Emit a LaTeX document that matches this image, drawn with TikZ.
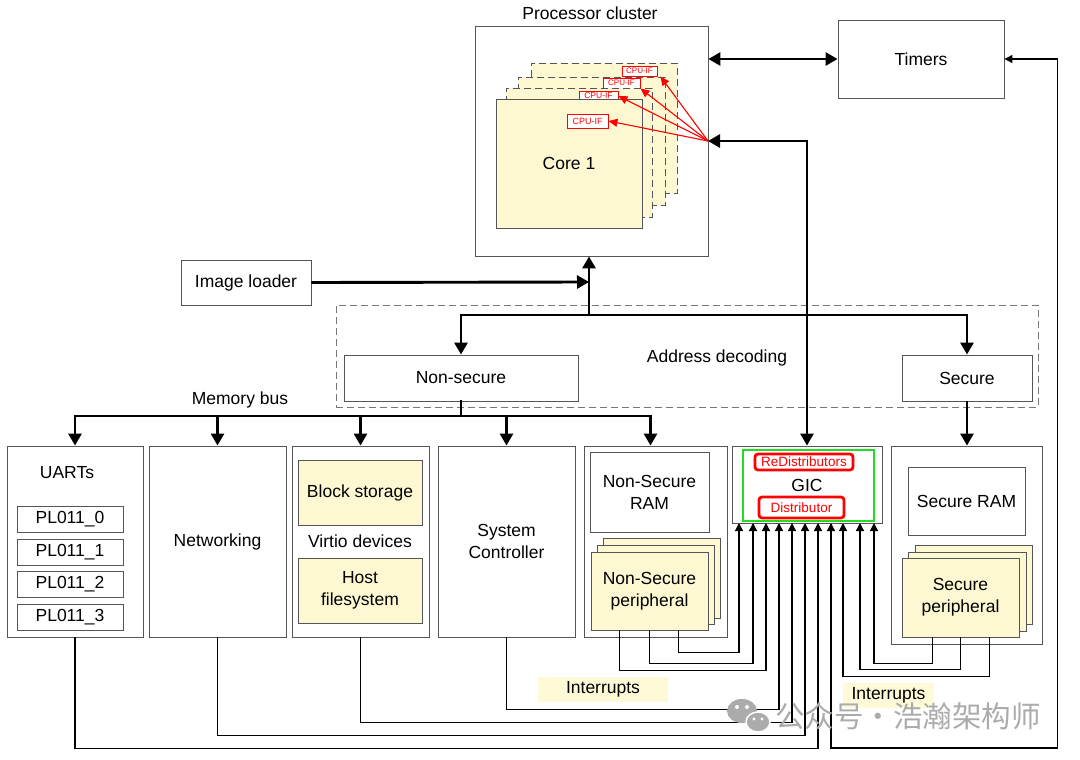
\documentclass[tikz,border=0pt]{standalone}
\usepackage{fontspec}
\setmainfont{Liberation Sans}
\newfontfamily\cjk{Noto Sans CJK SC}
\usetikzlibrary{arrows.meta,calc}
\definecolor{boxgray}{HTML}{555555}
\definecolor{coreyel}{HTML}{FDF8D2}
\definecolor{labyel}{HTML}{FEFAD8}
\definecolor{gicgreen}{HTML}{22DD22}
\definecolor{wmgray}{HTML}{ABABAB}
\newcommand\bx[7][]{\node[#1, minimum width={(#5-#3)*1pt}, minimum height={(#6-#4)*1pt}] (#2) at ({(#3+#5)/2},{(#4+#6)/2}) {#7};}
\begin{document}
\begin{tikzpicture}[x=1pt,y=-1pt, font=\fontsize{17.5}{22}\selectfont,
  box/.style={draw=boxgray, line width=0.9pt, fill=white, inner sep=0pt, align=center},
  core/.style={box, fill=coreyel},
  backcore/.style={core, dashed, dash pattern=on 7pt off 4pt},
  cpuif/.style={draw=red, line width=0.9pt, fill=white, text=red, inner sep=0pt, font=\fontsize{9}{10}\selectfont},
  redbox/.style={draw=red, line width=2.8pt, rounded corners=3pt, fill=white, text=red, inner sep=0pt, font=\fontsize{13.5}{15}\selectfont},
  lab/.style={fill=labyel, inner sep=0pt},
  bus/.style={line width=2.9pt, -{Triangle[length=12pt,width=13pt]}},
  busline/.style={line width=2.9pt, line cap=rect},
  busboth/.style={line width=2.9pt, {Triangle[length=12pt,width=13pt]}-{Triangle[length=12pt,width=13pt]}},
  wire/.style={line width=1.2pt},
  intarrow/.style={wire, -{Triangle[length=8pt,width=8pt]}},
  intboth/.style={wire, {Triangle[length=8pt,width=8pt]}-{Triangle[length=8pt,width=8pt]}},
  redarrow/.style={draw=red, line width=1.1pt, -{Triangle[length=9pt,width=8pt]}}]
\useasboundingbox (0,0) rectangle (1080,760);

% processor cluster
\bx[box]{pc}{475}{26}{708}{256}{}
\node (pclabel) at (590,13) {Processor cluster};
\bx[backcore]{c4}{531}{63}{677}{193}{}
\bx[cpuif, font=\fontsize{8}{9}\selectfont]{if4}{622}{66}{657}{76}{CPU-IF}
\bx[backcore]{c3}{518}{77}{665}{205}{}
\bx[cpuif, font=\fontsize{8}{9}\selectfont]{if3}{603}{78}{640}{88}{CPU-IF}
\bx[backcore]{c2}{506}{88}{652}{217}{}
\bx[cpuif, font=\fontsize{8.5}{9}\selectfont]{if2}{579}{91}{618}{101}{CPU-IF}
\bx[core]{c1}{496}{99}{642}{228}{Core 1}
\bx[cpuif]{if1}{567}{114}{608}{128}{CPU-IF}
\coordinate (cpuin) at (708,141);

% timers
\bx[box]{tim}{838}{20}{1004}{98}{Timers}
\draw[busboth] (pc.east |- tim.west) -- (tim.west);

% image loader and address decoding
\bx[box]{img}{181}{260}{311}{305}{Image loader}
\bx[box, draw=boxgray!80, dashed, dash pattern=on 7pt off 4pt, fill=none]{ad}{336}{305}{1038}{407}{}
\node (adl) at (717,358) {Address decoding};
\bx[box]{ns}{344}{355}{578}{401}{Non-secure}
\bx[box]{sec}{902}{355}{1032}{401}{Secure}
\coordinate (junc) at (589,282);
\coordinate (adtop) at (589,315);
\draw[bus] (img.east) -- (junc);
\draw[bus] (adtop) -- (pc.south -| adtop);
\draw[bus] (adtop) -| (ns.north);
\draw[bus] (adtop) -| (sec.north);

% bottom row
\bx[box]{uart}{7}{446}{143}{637}{}
\node (uartl) at (67,473) {UARTs};
\bx[box]{pl0}{17}{506}{123}{532}{PL011\_0}
\bx[box]{pl1}{17}{539}{123}{565}{PL011\_1}
\bx[box]{pl2}{17}{571}{123}{597}{PL011\_2}
\bx[box]{pl3}{17}{604}{123}{630}{PL011\_3}
\bx[box]{net}{149}{446}{286}{637}{Networking}
\bx[box]{virt}{292}{446}{429}{637}{}
\bx[core]{blk}{298}{460}{422}{525}{Block storage}
\node (virtl) at (360,541) {Virtio devices};
\bx[core]{host}{298}{558}{422}{623}{Host\\filesystem}
\bx[box]{sys}{438}{446}{575}{637}{System\\Controller}
\bx[box]{nsc}{584}{446}{727}{637}{}
\bx[box]{nsram}{590}{452}{709}{532}{Non-Secure\\RAM}
\bx[core]{nsp3}{603}{538}{720}{618}{}
\bx[core]{nsp2}{597}{545}{714}{624}{}
\bx[core]{nsp1}{591}{552}{708}{630}{Non-Secure\\peripheral}
\bx[box]{gicc}{732}{446}{882}{523}{}
\bx[box, draw=gicgreen, line width=1.6pt]{gicg}{743}{450}{874}{521}{}
\node (gicl) at (807,485) {GIC};
\bx[redbox]{redist}{755}{454}{853}{470}{ReDistributors}
\bx[redbox]{dist}{759}{497}{844}{518}{Distributor}
\bx[box]{secc}{891}{446}{1042}{644}{}
\bx[box]{sram}{908}{467}{1025}{535}{Secure RAM}
\bx[core]{sp3}{915}{545}{1032}{624}{}
\bx[core]{sp2}{908}{552}{1026}{631}{}
\bx[core]{sp1}{902}{558}{1019}{637}{Secure\\peripheral}

% memory bus
\node (mbl) at (240,400) {Memory bus};
\coordinate (mb) at (461,416);
\draw[busline] (ns.south) -- (mb);
\draw[busline] (uart.north |- mb) -- ([xshift=-5pt]nsc.north |- mb);
\foreach \n in {uart,net,virt,sys} \draw[bus] (\n.north |- mb) -- (\n.north);
\draw[bus] ([xshift=-5pt]nsc.north |- mb) -- ([xshift=-5pt]nsc.north);
\draw[bus] (sec.south) -- (secc.north -| sec.south);

% GIC to cores
\draw[busboth] (cpuin) -| (gicc.north);
\draw[redarrow] (cpuin) -- (if1.east);
\draw[redarrow] (cpuin) -- (if2.east);
\draw[redarrow] (cpuin) -- (if3.south east);
\draw[redarrow] (cpuin) -- ([xshift=3pt]if4.south east);

% interrupt labels
\bx[lab]{int1}{538}{677}{668}{702}{Interrupts}
\bx[lab]{int2}{843}{683}{934}{708}{Interrupts}

% interrupt inputs
\coordinate (i1) at (739,523);
\coordinate (i2) at (753,523);
\coordinate (i3) at (766,523);
\coordinate (i4) at (779,523);
\coordinate (i5) at (792,523);
\coordinate (i6) at (805,523);
\coordinate (i7) at (818,523);
\coordinate (i8) at (831,523);
\coordinate (i9) at (843,523);
\coordinate (i10) at (860,523);
\coordinate (i11) at (874,523);
\draw[intarrow] ([xshift=29pt]nsp1.south) -- ++(0,22) -| (i1);
\draw[intarrow] (nsp1.south) -- ++(0,33) -| (i2);
\draw[intarrow] ([xshift=-30pt]nsp1.south) -- ++(0,40) -| (i3);
\draw[intarrow] (sys.south) -- ++(0,72) -| (i4);
\draw[intarrow] (virt.south) -- ++(0,85) -| (i5);
\draw[intarrow] (net.south) -- ++(0,98) -| (i6);
\draw[intarrow] (uart.south) -- ++(0,111) -| (i7);
\draw[intboth] (tim.east) -- ++(53,0) -- ++(0,689) -| (i8);
\draw[intarrow] ([xshift=29pt]sp1.south) -- ++(0,39) -| (i9);
\draw[intarrow] (sp1.south) -- ++(0,32) -| (i10);
\draw[intarrow] ([xshift=-28pt]sp1.south) -- ++(0,26) -| (i11);

% watermark
\fill[wmgray] (742,711) ellipse [x radius=15pt, y radius=12pt];
\filldraw[fill=wmgray, draw=white, line width=1.5pt] (758,722) ellipse [x radius=12pt, y radius=10pt];
\fill[white] (737,707) circle [radius=2pt] (747,707) circle [radius=2pt] (754,719) circle [radius=1.6pt] (762,719) circle [radius=1.6pt];
\node[text=wmgray, font=\cjk\fontsize{29.5}{32}\selectfont, anchor=west, inner sep=0pt] (wm) at (775,716) {公众号・浩瀚架构师};
\end{tikzpicture}
\end{document}
